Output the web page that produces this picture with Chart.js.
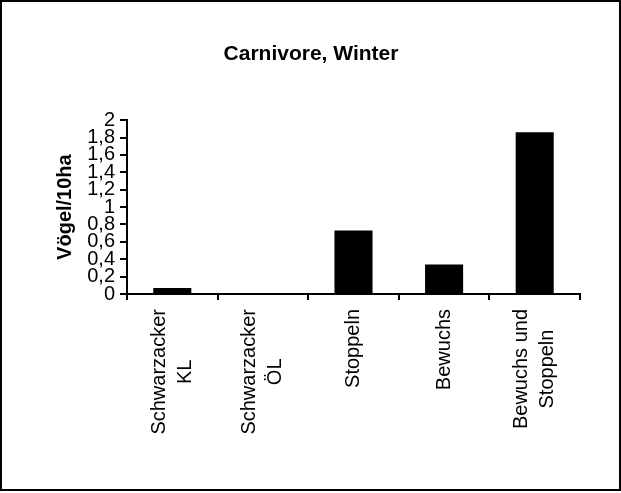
<!DOCTYPE html>
<html>
<head>
<meta charset="utf-8">
<script src="https://cdn.jsdelivr.net/npm/chart.js@4/dist/chart.umd.min.js"></script>
<style>
  html, body { margin: 0; padding: 0; background: #fff; }
  #frame { width: 617px; height: 487px; border: 2px solid #000; background: #fff; }
  canvas { display: block; }
</style>
</head>
<body>
<div id="frame"><canvas id="c" width="617" height="487"></canvas></div>
<script>
// ---- data ----
const categories = [
  ['Schwarzacker', 'KL'],
  ['Schwarzacker', 'ÖL'],
  ['Stoppeln'],
  ['Bewuchs'],
  ['Bewuchs und', 'Stoppeln']
];
const birdsPer10ha = [0.07, 0, 0.73, 0.34, 1.86];
const yTickLabels = ['0', '0,2', '0,4', '0,6', '0,8', '1', '1,2', '1,4', '1,6', '1,8', '2'];
const chartTitle = 'Carnivore, Winter';
const yAxisTitle = 'Vögel/10ha';

const FONT = "'Liberation Sans', Arial, sans-serif";

// draws the category labels centred line-by-line, rotated 90°, using the x scale positions
const centeredRotatedLabels = {
  id: 'centeredRotatedLabels',
  afterDraw(chart) {
    const sx = chart.scales.x;
    const ctx = chart.ctx;
    const lh = 26;
    ctx.save();
    ctx.font = '20px ' + FONT;
    ctx.fillStyle = '#000';
    ctx.textAlign = 'center';
    ctx.textBaseline = 'middle';
    categories.forEach((lines, i) => {
      const x = sx.getPixelForValue(i);
      const top = chart.chartArea.bottom + 15;
      const w = Math.max(...lines.map(l => ctx.measureText(l).width));
      ctx.save();
      ctx.translate(x, top);
      ctx.rotate(-Math.PI / 2);
      lines.forEach((l, k) => {
        ctx.fillText(l, -w / 2, (k - (lines.length - 1) / 2) * lh);
      });
      ctx.restore();
    });
    ctx.restore();
  }
};

new Chart(document.getElementById('c'), {
  type: 'bar',
  data: {
    labels: categories,
    datasets: [{
      data: birdsPer10ha,
      backgroundColor: '#000',
      borderWidth: 0,
      categoryPercentage: 1,
      barPercentage: 0.42
    }]
  },
  options: {
    responsive: false,
    animation: false,
    devicePixelRatio: 1,
    layout: { padding: { left: 40, right: 39, top: 0, bottom: 0 } },
    plugins: {
      legend: { display: false },
      tooltip: { enabled: false },
      title: {
        display: true,
        text: chartTitle,
        color: '#000',
        font: { family: FONT, size: 21, weight: 'bold' },
        padding: { top: 40, bottom: 53 }
      }
    },
    scales: {
      x: {
        grid: {
          display: true,
          drawOnChartArea: false,
          drawTicks: true,
          tickLength: 6,
          offset: true,
          color: '#000',
          lineWidth: 2
        },
        border: { display: true, color: '#000', width: 2 },
        ticks: {
          color: 'rgba(0,0,0,0)',
          font: { family: FONT, size: 20 },
          minRotation: 90,
          maxRotation: 90,
          autoSkip: false
        },
        afterFit(scale) { scale.height = 195; }
      },
      y: {
        min: 0,
        max: 2,
        grid: {
          display: true,
          drawOnChartArea: false,
          drawTicks: true,
          tickLength: 7,
          color: '#000',
          lineWidth: 2
        },
        border: { display: true, color: '#000', width: 2 },
        ticks: {
          stepSize: 0.2,
          autoSkip: false,
          color: '#000',
          padding: 5,
          font: { family: FONT, size: 20 },
          callback: (v, i) => yTickLabels[i]
        },
        title: {
          display: true,
          text: yAxisTitle,
          color: '#000',
          font: { family: FONT, size: 20, weight: 'bold' },
          padding: { top: 11, bottom: 0 }
        },
        afterFit(scale) { scale.width = 85; }
      }
    }
  },
  plugins: [centeredRotatedLabels]
});
</script>
</body>
</html>
